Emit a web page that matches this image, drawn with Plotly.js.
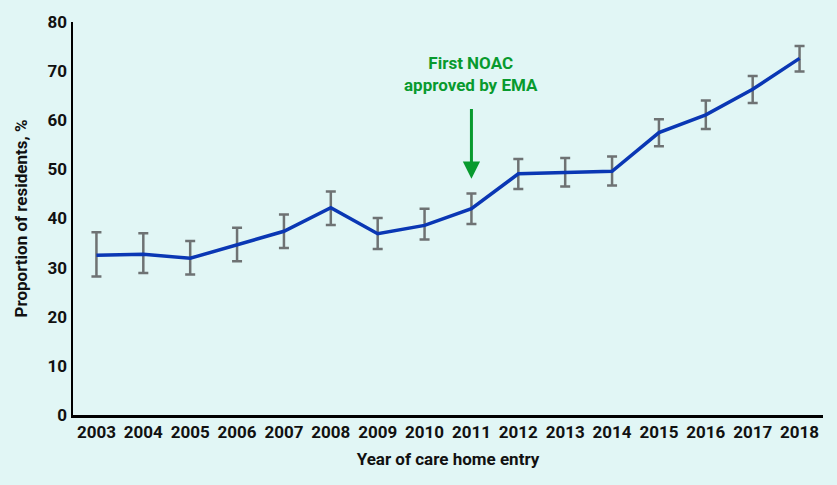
<!DOCTYPE html>
<html><head><meta charset="utf-8">
<script src="https://cdn.plot.ly/plotly-3.0.1.min.js"></script>
<style>html,body{margin:0;padding:0;background:#e1f6f5;}</style>
</head><body>
<div id="chart" style="width:837px;height:485px;"></div>
<script>
const years = ["2003","2004","2005","2006","2007","2008","2009","2010","2011","2012","2013","2014","2015","2016","2017","2018"];
const proportion = [32.5,32.7,31.9,34.7,37.4,42.2,36.9,38.6,42.0,49.1,49.4,49.6,57.5,61.1,66.3,72.6];
const upperCI = [37.2,37.0,35.4,38.1,40.8,45.5,40.1,42.0,45.1,52.1,52.3,52.6,60.2,64.0,69.0,75.1];
const lowerCI = [28.2,28.9,28.6,31.3,34.0,38.7,33.8,35.7,38.9,46.0,46.5,46.7,54.7,58.2,63.5,69.9];
const yTicks = [0,10,20,30,40,50,60,70,80];
const annotationYear = "2011";
const annotationText = "First NOAC<br>approved by EMA";
const arrowTail = 62.6;
const arrowTip = 48.1;

const errPlus = proportion.map((v,i)=>+(upperCI[i]-v).toFixed(2));
const errMinus = proportion.map((v,i)=>+(v-lowerCI[i]).toFixed(2));
const annIdx = years.indexOf(annotationYear);

const font = "Roboto, 'DejaVu Sans', sans-serif";
const green = '#089a2e';
const trace = {
  x: years, y: proportion, type: 'scatter', mode: 'lines',
  line: {color: '#0a37b4', width: 3.5},
  error_y: {type: 'data', symmetric: false, array: errPlus, arrayminus: errMinus,
            color: '#6e7273', thickness: 2.5, width: 5}
};
const layout = {
  width: 837, height: 485,
  paper_bgcolor: '#e1f6f5', plot_bgcolor: '#e1f6f5',
  margin: {l: 73, r: 14, t: 22, b: 70},
  showlegend: false,
  font: {family: font, color: '#111', size: 17},
  xaxis: {
    type: 'category', range: [-0.5, 15.5], showgrid: false, zeroline: false,
    showline: true, linecolor: '#000', linewidth: 2.5, ticks: '',
    tickfont: {family: font, size: 17, weight: 'bold', color: '#111'},
    title: {text: 'Year of care home entry', font: {family: font, size: 17, weight: 'bold', color: '#111'}, standoff: 12}
  },
  yaxis: {
    range: [0, 80], tickvals: yTicks, showgrid: false, zeroline: false,
    showline: true, linecolor: '#000', linewidth: 2.5, ticks: '',
    tickfont: {family: font, size: 17, weight: 'bold', color: '#111'},
    title: {text: 'Proportion of residents, %', font: {family: font, size: 17, weight: 'bold', color: '#111'}, standoff: 16}
  },
  annotations: [
    {x: annIdx, y: arrowTip, ax: annIdx, ay: arrowTail, xref: 'x', yref: 'y', axref: 'x', ayref: 'y',
     text: '', showarrow: true, arrowhead: 2, arrowsize: 1.15, arrowwidth: 3, arrowcolor: green},
    {x: annIdx, y: arrowTail + 2.2, xref: 'x', yref: 'y', text: annotationText, showarrow: false,
     yanchor: 'bottom', font: {family: font, size: 17, weight: 'bold', color: green}, align: 'center'}
  ]
};
Plotly.newPlot('chart', [trace], layout, {displayModeBar: false, staticPlot: true});
</script>
</body></html>
